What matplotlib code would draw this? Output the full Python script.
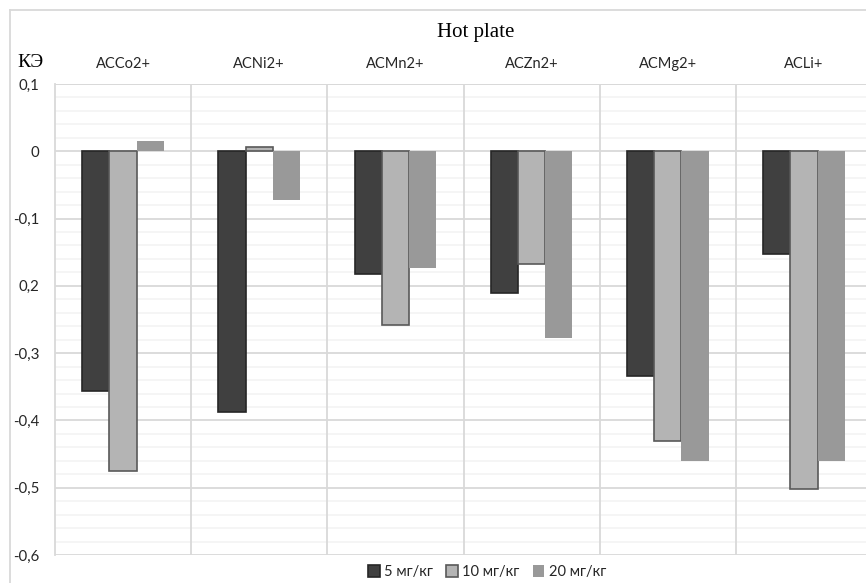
import matplotlib
matplotlib.use("Agg")
import matplotlib.pyplot as plt
import matplotlib.transforms as mtransforms
import numpy as np

# Data
categories = ["ACCo2+", "ACNi2+", "ACMn2+", "ACZn2+", "ACMg2+", "ACLi+"]
series_names = ["5 мг/кг", "10 мг/кг", "20 мг/кг"]
dose_5 = [-0.357, -0.388, -0.183, -0.211, -0.334, -0.152]
dose_10 = [-0.475, 0.006, -0.258, -0.168, -0.430, -0.502]
dose_20 = [0.015, -0.073, -0.174, -0.278, -0.460, -0.460]
ytick_values = [0.1, 0.0, -0.1, -0.2, -0.3, -0.4, -0.5, -0.6]
ytick_labels = ["0,1", "0", "-0,1", "0,2", "-0,3", "-0,4", "-0,5", "-0,6"]

sans = ["Lato", "DejaVu Sans"]
serif = ["Liberation Serif", "DejaVu Serif"]

fig = plt.figure(figsize=(8.66, 5.83), dpi=100)
W, H = 866, 583

# outer chart frame (left and top edges visible)
fig.add_artist(plt.Line2D([10 / W, 10 / W], [0, 1 - 10 / H], color="#d9d9d9", lw=1.3,
                          transform=fig.transFigure))
fig.add_artist(plt.Line2D([10 / W, 1], [1 - 10 / H, 1 - 10 / H], color="#d9d9d9", lw=1.3,
                          transform=fig.transFigure))

ax = fig.add_axes([55 / W, 1 - 555 / H, (872 - 55) / W, (555 - 84) / H])

x = np.arange(len(categories))
bw = 0.2
fills = ["#404040", "#b4b4b4", "#999999"]
edges = ["#262626", "#595959", "none"]
for i, (vals, fc, ec) in enumerate(zip([dose_5, dose_10, dose_20], fills, edges)):
    ax.bar(x + (i - 1) * bw, vals, width=bw, color=fc, edgecolor=ec,
           linewidth=1.2 if ec != "none" else 0, zorder=3, label=series_names[i])

ax.set_xlim(-0.5, len(categories) - 0.5)
ax.set_ylim(-0.6, 0.1)

# horizontal grid: major every 0.1, minor every 0.02
ax.set_axisbelow(True)
ax.set_yticks(ytick_values)
ax.set_yticklabels(ytick_labels, fontfamily=sans, fontsize=10.8, color="#262626")
ax.set_yticks(np.round(np.arange(-0.6, 0.1001, 0.02), 2), minor=True)
ax.tick_params(axis="y", which="both", length=0, pad=11)
ax.grid(axis="y", which="minor", color="#f2f2f2", lw=1.1)
ax.grid(axis="y", which="major", color="#d9d9d9", lw=1.3)

# vertical dividers between categories
ax.set_xticks([])
for xb in np.arange(0.5, len(categories) - 0.5, 1.0):
    ax.axvline(xb, color="#d9d9d9", lw=1.3, zorder=1.5)

for s in ["top", "right", "bottom"]:
    ax.spines[s].set_visible(False)
ax.spines["left"].set_color("#d9d9d9")
ax.spines["left"].set_linewidth(1.3)
ax.spines["left"].set_zorder(1.5)
ax.axhline(0.1, color="#d9d9d9", lw=1.3, zorder=1.5)

# category names above the plot
label_tf = mtransforms.blended_transform_factory(ax.transData, fig.transFigure)
for xi, name in zip(x, categories):
    ax.text(xi, 1 - 68 / H, name, transform=label_tf,
            ha="center", va="baseline", fontsize=10.5, fontfamily=sans, color="#262626")

fig.text(476 / W, 1 - 37 / H, "Hot plate", ha="center", va="baseline",
         fontsize=15, fontfamily=serif, color="#000000")
fig.text(17 / W, 1 - 67 / H, "КЭ", ha="left", va="baseline",
         fontsize=14, fontfamily=serif, color="#000000")

leg = fig.legend(loc="center", bbox_to_anchor=(487 / W, 1 - 572 / H), ncol=3,
                 frameon=False, handlelength=0.8, handleheight=0.8, handletextpad=0.3,
                 columnspacing=0.9, prop={"family": sans, "size": 10.5})
for t in leg.get_texts():
    t.set_color("#262626")

fig.savefig("out.png", dpi=100)
